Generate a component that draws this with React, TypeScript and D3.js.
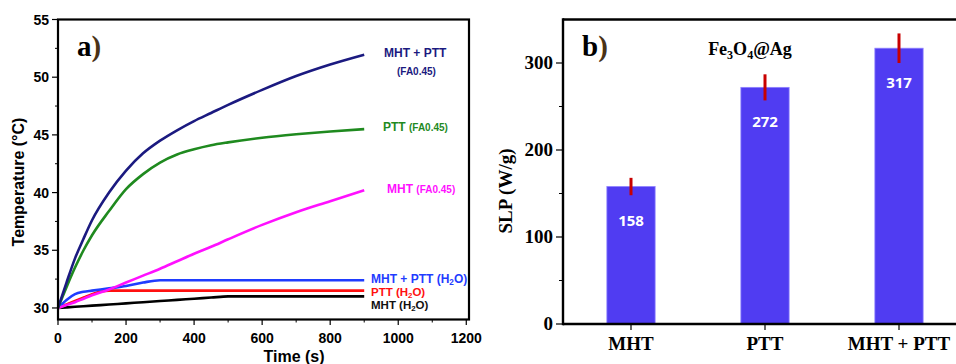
import React from "react";
import * as d3 from "d3";

// ---------- Panel a data ----------
const times = [0, 25, 50, 75, 100, 150, 200, 250, 300, 350, 400, 450, 500, 600, 700, 800, 900];
const mhtPttFA = [30, 32.2, 34.3, 36.0, 37.6, 40.0, 41.9, 43.4, 44.5, 45.4, 46.2, 46.9, 47.6, 48.9, 50.1, 51.1, 51.95];
const pttFA = [30, 31.8, 33.5, 35.0, 36.3, 38.4, 40.3, 41.6, 42.6, 43.3, 43.75, 44.1, 44.35, 44.75, 45.05, 45.3, 45.5];
const mhtFA = [30, 30.25, 30.5, 30.8, 31.1, 31.6, 32.2, 32.8, 33.4, 34.05, 34.7, 35.3, 35.95, 37.2, 38.3, 39.25, 40.2];
const mhtPttH2O = [30, 30.7, 31.2, 31.4, 31.5, 31.7, 31.9, 32.2, 32.4, 32.4, 32.4, 32.4, 32.4, 32.4, 32.4, 32.4, 32.4];
const pttH2O = [30, 30.3, 30.6, 30.9, 31.2, 31.5, 31.5, 31.5, 31.5, 31.5, 31.5, 31.5, 31.5, 31.5, 31.5, 31.5, 31.5];
const mhtH2O = [30, 30.05, 30.1, 30.15, 30.2, 30.3, 30.4, 30.5, 30.6, 30.7, 30.8, 30.9, 31.0, 31.0, 31.0, 31.0, 31.0];

const xTicksA = [0, 200, 400, 600, 800, 1000, 1200];
const xMinorA = [100, 300, 500, 700, 900, 1100];
const yTicksA = [30, 35, 40, 45, 50, 55];
const yMinorA = [32.5, 37.5, 42.5, 47.5, 52.5];

// ---------- Panel b data ----------
const categories = ["MHT", "PTT", "MHT + PTT"];
const slp = [158, 272, 317];
const slpErr = [10, 15, 17];
const yTicksB = [0, 100, 200, 300];
const yMinorB = [50, 150, 250];

const SANS = "'Liberation Sans', Arial, sans-serif";
const SERIF = "'Liberation Serif', 'Times New Roman', serif";

function H2O({ size }: { size: number }) {
  const d = size * 0.18;
  return (
    <>
      <tspan>(H</tspan>
      <tspan fontSize={size * 0.68} dy={d}>2</tspan>
      <tspan dy={-d}>O)</tspan>
    </>
  );
}

export default function App() {
  const xA = d3.scaleLinear().domain([0, 1208]).range([58, 469]);
  const yA = d3.scaleLinear().domain([29, 55]).range([319.5, 19.5]);
  const line = (vals: number[]) =>
    d3
      .line<number>()
      .x((_, i) => xA(times[i]))
      .y((v) => yA(v))
      .curve(d3.curveMonotoneX)(vals) || "";

  const series = [
    { v: mhtH2O, c: "#000000" },
    { v: pttH2O, c: "#ff1010" },
    { v: mhtPttH2O, c: "#1f3cff" },
    { v: mhtFA, c: "#ff10ff" },
    { v: pttFA, c: "#1f8a1f" },
    { v: mhtPttFA, c: "#1b1a80" },
  ];

  const xB = d3.scaleBand<string>().domain(categories).range([564, 966]).paddingInner(0.64).paddingOuter(0.32);
  const yB = d3.scaleLinear().domain([0, 350]).range([324, 19.5]);
  const barColor = "#503cf2";

  return (
    <svg
      width={956}
      height={364}
      style={{ position: "absolute", left: 0, top: 0, background: "#fff" }}
      fontFamily={SANS}
    >
      <rect x={0} y={0} width={956} height={364} fill="#fff" />
      {/* ================= Panel a ================= */}
      <g>
        {series.map((s, i) => (
          <path key={i} d={line(s.v)} fill="none" stroke={s.c} strokeWidth={2.6} strokeLinejoin="round" />
        ))}
        <rect x={58} y={19.5} width={411} height={300} fill="none" stroke="#000" strokeWidth={2.2} />
        {yTicksA.map((t) => (
          <g key={t}>
            <line x1={52} x2={58} y1={yA(t)} y2={yA(t)} stroke="#000" strokeWidth={1.2} />
            <text x={49} y={yA(t)} dy="0.36em" textAnchor="end" fontSize={14} fontWeight="bold">
              {t}
            </text>
          </g>
        ))}
        {yMinorA.map((t) => (
          <line key={t} x1={55} x2={58} y1={yA(t)} y2={yA(t)} stroke="#000" strokeWidth={1} />
        ))}
        {xTicksA.map((t) => (
          <g key={t}>
            <line x1={xA(t)} x2={xA(t)} y1={319.5} y2={325} stroke="#000" strokeWidth={1.2} />
            <text x={xA(t)} y={343} textAnchor="middle" fontSize={14} fontWeight="bold">
              {t}
            </text>
          </g>
        ))}
        {xMinorA.map((t) => (
          <line key={t} x1={xA(t)} x2={xA(t)} y1={319.5} y2={322.5} stroke="#000" strokeWidth={1} />
        ))}
        <text x={294} y={362} textAnchor="middle" fontSize={16} fontWeight="bold">
          Time (s)
        </text>
        <text transform="translate(24,182) rotate(-90)" textAnchor="middle" fontSize={16} fontWeight="bold">
          Temperature (°C)
        </text>
        <text x={77} y={56} fontFamily={SERIF} fontSize={29} fontWeight="bold">
          a<tspan fill="#4a3216">)</tspan>
        </text>

        <text x={384} y={57} fontSize={12} fontWeight="bold" fill="#1b1a80">
          MHT + PTT
        </text>
        <text x={397} y={75} fontSize={10} fontWeight="bold" fill="#1b1a80">
          (FA0.45)
        </text>
        <text x={383} y={131} fontSize={12} fontWeight="bold" fill="#1f8a1f">
          PTT <tspan fontSize={10}>(FA0.45)</tspan>
        </text>
        <text x={387} y={193} fontSize={12} fontWeight="bold" fill="#ff10ff">
          MHT <tspan fontSize={10}>(FA0.45)</tspan>
        </text>
        <text x={371} y={282.5} fontSize={12} fontWeight="bold" fill="#1f3cff">
          <tspan>MHT + PTT </tspan>
          <H2O size={12} />
        </text>
        <text x={371} y={295.5} fontSize={11.5} fontWeight="bold" fill="#ff1010">
          <tspan>PTT </tspan>
          <H2O size={11.5} />
        </text>
        <text x={371} y={309} fontSize={11.5} fontWeight="bold" fill="#111">
          <tspan>MHT </tspan>
          <H2O size={11.5} />
        </text>
      </g>

      {/* ================= Panel b ================= */}
      <g>
        {categories.map((c, i) => {
          const cx = xB(c)! + xB.bandwidth() / 2;
          return (
            <g key={c}>
              <rect
                x={xB(c)!}
                y={yB(slp[i])}
                width={xB.bandwidth()}
                height={yB(0) - yB(slp[i])}
                fill={barColor}
                stroke="#8e80ff"
                strokeWidth={0.8}
              />
              <line
                x1={cx}
                x2={cx}
                y1={yB(slp[i] + slpErr[i])}
                y2={yB(slp[i] - slpErr[i])}
                stroke="#c80000"
                strokeWidth={3}
              />
              <text
                x={cx}
                y={yB(slp[i]) + 34}
                dy="0.36em"
                textAnchor="middle"
                fontFamily="'Open Sans', sans-serif"
                fontWeight="bold"
                fontSize={15}
                fill="#fff"
              >
                {slp[i]}
              </text>
              <line x1={cx} x2={cx} y1={324} y2={330} stroke="#000" strokeWidth={1.2} />
              <text x={cx} y={350} textAnchor="middle" fontFamily={SERIF} fontWeight="bold" fontSize={19}>
                {c}
              </text>
            </g>
          );
        })}
        <line x1={563} x2={956} y1={19.5} y2={19.5} stroke="#000" strokeWidth={2.4} />
        <line x1={563} x2={956} y1={324} y2={324} stroke="#000" strokeWidth={2.4} />
        <line x1={563} x2={563} y1={18.3} y2={325.2} stroke="#000" strokeWidth={2.4} />
        {yTicksB.map((t) => (
          <g key={t}>
            <line x1={556} x2={563} y1={yB(t)} y2={yB(t)} stroke="#000" strokeWidth={1.2} />
            <text x={553} y={yB(t)} dy="0.34em" textAnchor="end" fontFamily={SERIF} fontWeight="bold" fontSize={19}>
              {t}
            </text>
          </g>
        ))}
        {yMinorB.map((t) => (
          <line key={t} x1={559} x2={563} y1={yB(t)} y2={yB(t)} stroke="#000" strokeWidth={1} />
        ))}
        <text
          transform="translate(512,191) rotate(-90)"
          textAnchor="middle"
          fontFamily={SERIF}
          fontWeight="bold"
          fontSize={19}
        >
          SLP (W/g)
        </text>
        <text x={582} y={56} fontFamily={SERIF} fontSize={29} fontWeight="bold">
          b<tspan fill="#4a3216">)</tspan>
        </text>
        <text x={750} y={55} textAnchor="middle" fontFamily={SERIF} fontSize={18} fontWeight="bold">
          <tspan>Fe</tspan>
          <tspan fontSize={12} dy={4}>3</tspan>
          <tspan dy={-4}>O</tspan>
          <tspan fontSize={12} dy={4}>4</tspan>
          <tspan dy={-4}>@Ag</tspan>
        </text>
      </g>
    </svg>
  );
}
